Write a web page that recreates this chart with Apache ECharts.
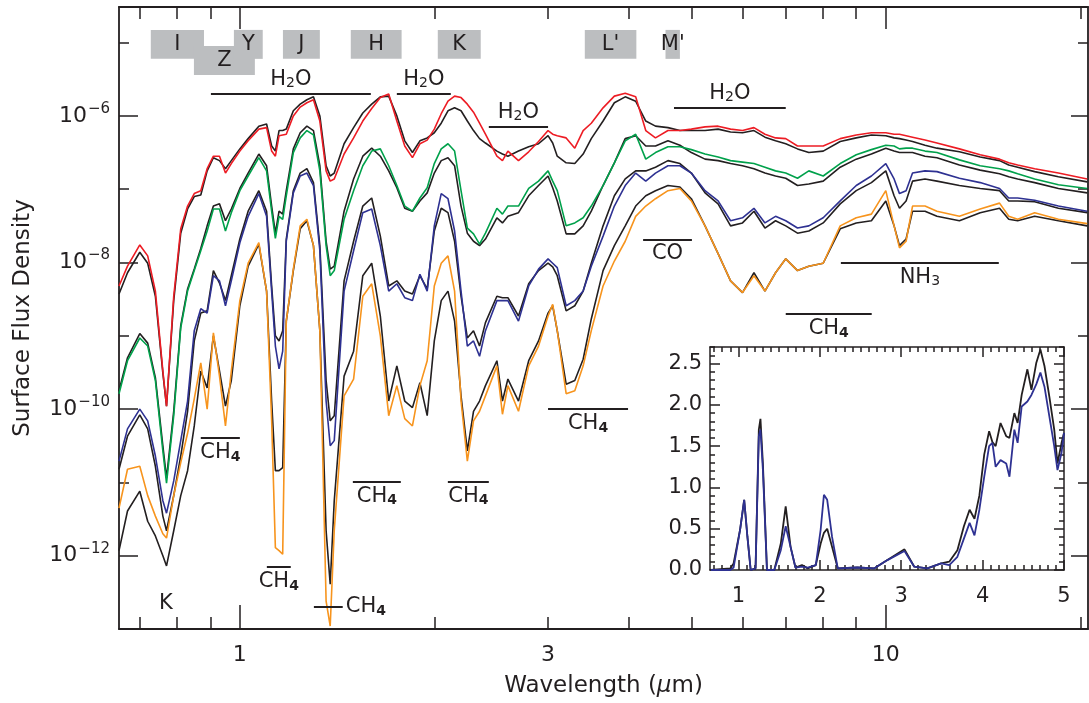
<!DOCTYPE html>
<html><head><meta charset="utf-8">
<script src="https://cdn.jsdelivr.net/npm/echarts@6/dist/echarts.min.js"></script>
<style>html,body{margin:0;padding:0;background:#fff}#c{width:1089px;height:703px}</style>
</head><body><div id="c"></div>
<script>
// ---------------- DATA ----------------
// wavelength grid (micron) shared by the eight model spectra
const wavelength = [0.65,0.67,0.70,0.72,0.74,0.76,0.77,0.79,0.81,0.83,
0.85,0.87,0.89,0.91,0.93,0.95,0.97,1.00,1.03,1.07,
1.10,1.12,1.135,1.15,1.165,1.18,1.21,1.24,1.27,1.30,
1.33,1.36,1.38,1.40,1.45,1.50,1.55,1.60,1.65,1.70,
1.75,1.80,1.85,1.90,1.95,2.00,2.05,2.10,2.15,2.20,
2.25,2.30,2.35,2.40,2.50,2.55,2.60,2.70,2.80,2.90,
3.00,3.05,3.10,3.20,3.30,3.40,3.50,3.65,3.80,3.95,
4.10,4.25,4.40,4.60,4.80,5.00,5.25,5.50,5.75,6.00,
6.25,6.50,6.75,7.00,7.30,7.60,8.00,8.50,9.00,9.50,
10.0,10.3,10.5,10.75,11.0,11.5,12.0,13.0,14.0,15.0,
15.5,16.0,17.0,18.5,20.5];

// log10 of surface flux density
const logFluxRed = [-8.32,-8.05,-7.76,-7.91,-8.39,-9.48,-9.96,-8.46,-7.54,-7.23,
-7.06,-7.02,-6.72,-6.55,-6.55,-6.78,-6.65,-6.48,-6.34,-6.18,
-6.16,-6.48,-6.55,-6.27,-6.26,-6.25,-6.00,-5.88,-5.82,-5.78,
-6.07,-6.75,-6.89,-6.86,-6.52,-6.30,-6.07,-5.90,-5.75,-5.70,
-6.07,-6.41,-6.57,-6.38,-6.33,-6.18,-5.97,-5.80,-5.73,-5.75,
-5.84,-5.95,-6.10,-6.25,-6.55,-6.61,-6.48,-6.61,-6.49,-6.35,
-6.20,-6.25,-6.27,-6.30,-6.44,-6.20,-6.10,-5.89,-5.73,-5.69,
-5.74,-6.20,-6.30,-6.20,-6.20,-6.18,-6.15,-6.14,-6.18,-6.20,
-6.16,-6.25,-6.30,-6.31,-6.41,-6.41,-6.41,-6.31,-6.26,-6.23,
-6.23,-6.25,-6.25,-6.27,-6.29,-6.33,-6.37,-6.45,-6.53,-6.59,
-6.64,-6.67,-6.72,-6.78,-6.86];
const logFluxRedBlack = [-8.43,-8.14,-7.86,-8.01,-8.46,-9.51,-9.96,-8.52,-7.60,-7.27,
-7.10,-7.08,-6.75,-6.57,-6.61,-6.72,-6.61,-6.45,-6.31,-6.14,
-6.11,-6.41,-6.48,-6.20,-6.20,-6.18,-5.93,-5.84,-5.78,-5.74,
-6.00,-6.68,-6.82,-6.78,-6.38,-6.16,-5.96,-5.84,-5.74,-5.73,
-6.00,-6.34,-6.50,-6.34,-6.30,-6.23,-6.10,-5.93,-5.89,-5.93,
-6.07,-6.20,-6.31,-6.37,-6.48,-6.52,-6.55,-6.48,-6.42,-6.38,
-6.27,-6.37,-6.55,-6.64,-6.65,-6.52,-6.31,-6.07,-5.82,-5.74,
-5.80,-6.07,-6.14,-6.16,-6.20,-6.20,-6.20,-6.18,-6.22,-6.23,
-6.20,-6.29,-6.34,-6.38,-6.45,-6.50,-6.48,-6.35,-6.30,-6.26,
-6.27,-6.30,-6.31,-6.33,-6.35,-6.40,-6.44,-6.49,-6.56,-6.61,
-6.67,-6.70,-6.76,-6.83,-6.90];
const logFluxGreen = [-9.79,-9.34,-9.03,-9.14,-9.61,-10.57,-11.01,-10.09,-8.89,-8.39,
-8.11,-7.84,-7.57,-7.27,-7.27,-7.57,-7.32,-7.02,-6.82,-6.57,
-6.75,-7.30,-7.67,-7.37,-7.41,-7.09,-6.50,-6.30,-6.20,-6.26,
-6.75,-7.77,-8.18,-8.11,-7.41,-7.02,-6.68,-6.48,-6.45,-6.68,
-6.95,-7.23,-7.30,-7.12,-6.98,-6.65,-6.45,-6.38,-6.48,-7.02,
-7.53,-7.61,-7.75,-7.60,-7.26,-7.34,-7.23,-7.23,-6.99,-6.89,
-6.75,-6.89,-7.02,-7.50,-7.46,-7.39,-7.23,-6.95,-6.64,-6.34,
-6.25,-6.59,-6.50,-6.42,-6.42,-6.46,-6.52,-6.56,-6.61,-6.63,
-6.65,-6.70,-6.75,-6.78,-6.85,-6.75,-6.82,-6.65,-6.53,-6.46,
-6.40,-6.41,-6.45,-6.44,-6.44,-6.48,-6.50,-6.60,-6.68,-6.72,
-6.75,-6.79,-6.86,-6.94,-6.99];
const logFluxGreenBlack = [-9.75,-9.30,-8.97,-9.10,-9.57,-10.50,-10.94,-10.03,-8.86,-8.36,
-8.09,-7.81,-7.50,-7.23,-7.20,-7.43,-7.27,-6.99,-6.78,-6.52,
-6.68,-7.23,-7.60,-7.30,-7.34,-7.02,-6.45,-6.23,-6.14,-6.20,
-6.68,-7.71,-8.09,-8.05,-7.30,-6.86,-6.55,-6.44,-6.55,-6.75,
-6.98,-7.26,-7.30,-7.16,-7.05,-6.78,-6.61,-6.57,-6.68,-7.23,
-7.60,-7.71,-7.77,-7.68,-7.39,-7.46,-7.37,-7.32,-7.09,-6.95,
-6.82,-6.98,-7.16,-7.61,-7.61,-7.50,-7.30,-6.95,-6.64,-6.31,
-6.27,-6.41,-6.41,-6.34,-6.40,-6.50,-6.59,-6.61,-6.65,-6.68,
-6.72,-6.78,-6.82,-6.85,-6.95,-6.93,-6.89,-6.70,-6.59,-6.52,
-6.44,-6.48,-6.50,-6.50,-6.50,-6.55,-6.57,-6.67,-6.74,-6.79,
-6.83,-6.86,-6.91,-6.99,-7.05];
const logFluxBlue = [-10.71,-10.27,-10.00,-10.16,-10.64,-11.25,-11.42,-10.98,-10.43,-9.89,
-8.93,-8.63,-8.69,-8.18,-8.25,-8.59,-8.25,-7.73,-7.37,-7.06,
-7.37,-8.39,-9.14,-9.45,-9.21,-7.71,-7.05,-6.82,-6.78,-6.95,
-7.84,-9.89,-10.50,-10.43,-8.39,-7.84,-7.32,-7.27,-7.77,-8.39,
-8.29,-8.48,-8.52,-8.16,-8.39,-7.50,-7.06,-7.13,-7.57,-8.39,
-9.14,-9.07,-9.28,-8.93,-8.52,-8.52,-8.52,-8.80,-8.32,-8.09,
-7.95,-8.01,-8.07,-8.59,-8.52,-8.39,-8.05,-7.64,-7.23,-6.95,
-6.78,-6.89,-6.78,-6.68,-6.68,-6.78,-7.02,-7.16,-7.43,-7.39,
-7.26,-7.46,-7.37,-7.43,-7.53,-7.50,-7.39,-7.16,-6.95,-6.82,
-6.65,-6.86,-7.06,-7.02,-6.78,-6.75,-6.76,-6.85,-6.91,-6.99,
-7.12,-7.12,-7.15,-7.23,-7.30];
const logFluxBlueBlack = [-10.82,-10.37,-10.08,-10.27,-10.78,-11.46,-11.66,-11.18,-10.64,-10.03,
-9.07,-8.69,-8.66,-8.11,-8.28,-8.52,-8.18,-7.68,-7.30,-7.02,
-7.30,-8.32,-9.00,-9.07,-8.93,-7.68,-7.02,-6.78,-6.72,-6.91,
-7.77,-9.61,-10.16,-10.09,-8.25,-7.71,-7.23,-7.12,-7.64,-8.32,
-8.25,-8.39,-8.43,-8.18,-8.36,-7.57,-7.26,-7.32,-7.71,-8.46,
-9.03,-8.93,-9.14,-8.82,-8.46,-8.48,-8.48,-8.73,-8.29,-8.11,
-8.01,-8.06,-8.18,-8.66,-8.59,-8.39,-8.01,-7.50,-7.09,-6.86,
-6.75,-6.75,-6.70,-6.61,-6.65,-6.78,-7.05,-7.20,-7.50,-7.46,
-7.30,-7.53,-7.43,-7.50,-7.60,-7.57,-7.46,-7.20,-7.02,-6.91,
-6.75,-7.09,-7.26,-7.16,-6.89,-6.86,-6.89,-6.95,-6.99,-7.02,
-7.16,-7.16,-7.17,-7.26,-7.32];
const logFluxOrange = [-11.35,-10.82,-10.78,-11.18,-11.46,-11.70,-11.76,-11.18,-10.73,-10.33,
-9.86,-9.37,-10.00,-8.96,-9.55,-10.23,-9.48,-8.52,-8.01,-7.73,
-8.39,-10.16,-11.89,-11.93,-11.98,-8.80,-8.09,-7.50,-7.41,-7.77,
-8.93,-12.62,-12.96,-11.66,-9.82,-9.59,-8.46,-8.29,-9.00,-10.09,
-9.68,-10.13,-10.23,-9.68,-9.34,-8.32,-8.01,-7.91,-8.39,-9.89,
-10.71,-10.16,-10.03,-9.82,-9.41,-10.07,-9.68,-10.03,-9.41,-9.14,
-8.73,-8.57,-8.93,-9.79,-9.75,-9.41,-8.93,-8.32,-7.98,-7.71,
-7.37,-7.23,-7.13,-7.02,-6.99,-7.16,-7.50,-7.88,-8.25,-8.41,
-8.18,-8.39,-8.14,-7.95,-8.11,-8.05,-8.01,-7.50,-7.39,-7.34,
-7.02,-7.50,-7.80,-7.71,-7.23,-7.23,-7.30,-7.37,-7.27,-7.19,
-7.37,-7.41,-7.32,-7.41,-7.47];
const logFluxOrangeBlack = [-11.93,-11.39,-11.12,-11.53,-11.73,-12.00,-12.14,-11.66,-11.18,-10.84,
-10.23,-9.48,-9.71,-9.00,-9.48,-9.96,-9.61,-8.59,-8.05,-7.75,
-8.39,-9.89,-10.84,-10.84,-10.80,-8.80,-8.11,-7.54,-7.43,-7.77,
-8.93,-11.66,-12.39,-11.25,-9.55,-9.21,-8.18,-8.01,-8.73,-9.89,
-9.41,-9.89,-9.98,-9.64,-10.09,-9.07,-8.52,-8.39,-8.80,-9.82,
-10.57,-10.03,-9.89,-9.68,-9.34,-9.89,-9.59,-9.89,-9.34,-9.07,
-8.69,-8.59,-8.93,-9.66,-9.61,-9.32,-8.77,-8.11,-7.77,-7.50,
-7.23,-7.09,-7.02,-6.95,-6.97,-7.13,-7.50,-7.88,-8.25,-8.41,
-8.14,-8.39,-8.14,-7.95,-8.11,-8.05,-8.01,-7.54,-7.46,-7.43,
-7.16,-7.50,-7.77,-7.68,-7.30,-7.30,-7.37,-7.43,-7.32,-7.26,
-7.41,-7.43,-7.37,-7.43,-7.50];

// inset (linear flux ratio vs wavelength)
const insetWavelength = [0.66,0.90,0.94,1.02,1.07,1.11,1.15,1.21,1.25,1.27,
1.30,1.35,1.44,1.52,1.58,1.64,1.70,1.78,1.85,1.95,
2.01,2.05,2.09,2.15,2.22,2.46,2.67,2.83,3.04,3.16,
3.32,3.49,3.59,3.69,3.77,3.84,3.90,3.96,4.02,4.08,
4.12,4.16,4.22,4.29,4.33,4.39,4.43,4.48,4.55,4.60,
4.66,4.71,4.76,4.82,4.88,4.92,4.97,5.00];
const insetBlack = [0,0.02,0.08,0.49,0.85,0.40,0.00,0.02,1.70,1.83,
1.29,0.00,0.00,0.32,0.77,0.28,0.03,0.06,0.02,0.06,
0.32,0.45,0.50,0.28,0.02,0.03,0.02,0.12,0.25,0.04,
0.02,0.08,0.10,0.24,0.53,0.73,0.62,0.90,1.40,1.68,
1.55,1.50,1.78,1.62,1.60,1.90,1.78,2.12,2.43,2.18,
2.51,2.67,2.47,2.10,1.70,1.29,1.54,1.66];
const insetBlue = [0,0.00,0.03,0.49,0.85,0.40,0.00,0.02,1.62,1.70,
1.21,0.00,0.00,0.24,0.53,0.28,0.03,0.04,0.03,0.06,
0.49,0.91,0.85,0.40,0.02,0.03,0.02,0.12,0.23,0.04,
0.02,0.08,0.06,0.16,0.38,0.57,0.42,0.73,1.13,1.50,
1.54,1.25,1.33,1.29,1.13,1.70,1.54,1.98,2.04,2.12,
2.25,2.39,2.22,1.86,1.50,1.21,1.42,1.66];

// photometric bands (micron range, flux range of the grey box)
const bandNames = ['I','Z','Y','J','H','K',"L'","M'"];
const bandStart = [0.728,0.849,0.979,1.166,1.485,2.025,3.42,4.56];
const bandEnd = [0.880,1.055,1.085,1.330,1.780,2.36,4.11,4.80];
const bandTop = [1.49e-5,9.0e-6,1.49e-5,1.49e-5,1.49e-5,1.49e-5,1.49e-5,1.49e-5];
const bandBottom = [6.0e-6,3.62e-6,6.0e-6,6.0e-6,6.0e-6,6.0e-6,6.0e-6,6.0e-6];

// molecular features
const featureText = ['H{s|2}O','H{s|2}O','H{s|2}O','H{s|2}O','CO','NH{s|3}','CH{b|4}','CH{b|4}','CH{b|4}','CH{b|4}','CH{b|4}','CH{b|4}','CH{b|4}'];
const featureStart = [0.902,1.750,2.429,4.70,4.21,8.52,7.0,3.0,2.099,1.496,0.870,1.101,1.302];
const featureEnd = [1.595,2.121,3.0,7.0,5.01,14.96,9.51,3.99,2.429,1.775,1.0,1.199,1.443];
const featureLevel = [2.0e-6,2.0e-6,7.1e-7,1.29e-6,2.03e-8,9.9e-9,1.99e-9,1.0e-10,1.02e-11,1.02e-11,4.05e-11,7.0e-13,2.0e-13];
const featureSide = ['top','top','top','top','bottom','bottom','bottom','bottom','bottom','bottom','bottom','bottom','end'];
const pointText = ['K'];
const pointX = [0.768];
const pointY = [2.2e-13];

// axis ticks
const xMin = 0.65, xMax = 20.56, yMin = 1e-13, yMax = 3.06e-5;
const xMajorTicks = [1, 10];
const xMinorTicks = [0.7,0.8,0.9,2,3,4,5,6,7,8,9,20];
const xLabels = [1, 3, 10];
const yMajorExp = [-12,-10,-8,-6];
const yMinorExp = [-13,-11,-9,-7,-5];
const insetXMajor = [1,2,3,4,5];
const insetYMajor = [0,0.5,1.0,1.5,2.0,2.5];

// ---------------- CHART ----------------
const INK = '#231f20';
const FONT = 'DejaVu Sans';
const insetXMinor = []; for (let i = 7; i <= 50; i++) insetXMinor.push(i / 10);
const insetYMinor = []; for (let i = 1; i <= 27; i++) insetYMinor.push(i / 10);

const toPts = arr => wavelength.map((w, i) => [w, Math.pow(10, arr[i])]);
const L = Math.log10;
const lx0 = L(xMin), lx1 = L(xMax), ly0 = L(yMin), ly1 = L(yMax);

const mainRect = {left:119, top:7, width:969, height:622};
const insetRect = {left:710, top:347, width:354, height:223};

function spec(name, arr, color) {
  return {name, type:'line', xAxisIndex:0, yAxisIndex:0, data: toPts(arr), showSymbol:false, symbol:'none',
    lineStyle:{color, width:1.6}, itemStyle:{color}, silent:true, animation:false, z:2};
}
function tickAx(grid, pos, mn, mx, vals, len, label, lineW, showLine) {
  return {type:'value', gridIndex:grid, position:pos, min:mn, max:mx, splitLine:{show:false},
    axisLine:{show: showLine !== false, onZero:false, lineStyle:{color:INK, width:lineW || 1.8}},
    axisTick:{show:true, inside:true, length:len, customValues:vals, lineStyle:{color:INK, width:1.5}},
    axisLabel: label || {show:false}};
}

const featureLines = featureText.map((t, i) => [
  {coord:[featureStart[i], featureLevel[i]], label:{formatter:t,
    position: featureSide[i] === 'top' ? 'insideMiddleTop' : (featureSide[i] === 'end' ? 'end' : 'insideMiddleBottom')}},
  {coord:[featureEnd[i], featureLevel[i]]}
]);
const bandAreas = bandNames.map((n, i) => [
  {name:n, xAxis:bandStart[i], yAxis:bandTop[i]},
  {xAxis:bandEnd[i], yAxis:bandBottom[i]}
]);

const series = [
  spec('red model (black)', logFluxRedBlack, INK),
  spec('green model (black)', logFluxGreenBlack, INK),
  spec('blue model (black)', logFluxBlueBlack, INK),
  spec('orange model (black)', logFluxOrangeBlack, INK),
  spec('orange', logFluxOrange, '#f7941d'),
  spec('blue', logFluxBlue, '#2e3192'),
  spec('green', logFluxGreen, '#00a14b'),
  spec('red', logFluxRed, '#ed1c24')
];
series[7].markArea = {silent:true, animation:false, itemStyle:{color:'#bcbec0', opacity:1},
  label:{show:true, position:'inside', color:INK, fontSize:21, fontFamily:FONT}, data: bandAreas};
series[7].markLine = {silent:true, animation:false, symbol:['none','none'],
  lineStyle:{color:INK, width:2, type:'solid'},
  label:{show:true, color:INK, fontSize:21, fontFamily:FONT, distance:3,
    rich:{s:{fontSize:14, fontFamily:FONT, color:INK, padding:[9,0,0,0]}, b:{fontSize:14, fontWeight:'bold', fontFamily:FONT, color:INK, padding:[9,0,0,0]}}},
  data: featureLines};
series[7].markPoint = {silent:true, animation:false, symbol:'circle', symbolSize:1, itemStyle:{color:'rgba(0,0,0,0)'},
  label:{show:true, position:'inside', color:INK, fontSize:21, fontFamily:FONT},
  data: pointText.map((t, i) => ({coord:[pointX[i], pointY[i]], label:{formatter:t}}))};

series.push({name:'inset black', type:'line', xAxisIndex:5, yAxisIndex:5, showSymbol:false, symbol:'none',
  data: insetWavelength.map((w, i) => [w, insetBlack[i]]), lineStyle:{color:INK, width:1.8}, silent:true, animation:false, z:3});
series.push({name:'inset blue', type:'line', xAxisIndex:5, yAxisIndex:5, showSymbol:false, symbol:'none',
  data: insetWavelength.map((w, i) => [w, insetBlue[i]]), lineStyle:{color:'#2e3192', width:1.8}, silent:true, animation:false, z:4});

const xNameAx = tickAx(1,'bottom',lx0,lx1,xMajorTicks.map(L),24,
  {show:true, customValues:xLabels.map(L), margin:15, fontSize:22, color:INK, fontFamily:FONT,
   formatter:v => String(Math.round(Math.pow(10, v)))});
Object.assign(xNameAx, {name:'Wavelength ({i|μ}m)', nameLocation:'middle', nameGap:46,
  nameTextStyle:{fontSize:23, color:INK, fontFamily:FONT, rich:{i:{fontSize:23, fontStyle:'italic', fontFamily:FONT, color:INK}}}});
const yNameAx = tickAx(1,'left',ly0,ly1,yMajorExp,19,
  {show:true, customValues:yMajorExp, margin:9, fontSize:22, color:INK, fontFamily:FONT,
   formatter:v => '10{s|−' + Math.round(-v) + '}',
   rich:{s:{fontSize:15, fontFamily:FONT, color:INK, padding:[0,0,14,1]}}});
Object.assign(yNameAx, {name:'Surface Flux Density', nameLocation:'middle', nameGap:84, nameRotate:90,
  nameTextStyle:{fontSize:23, color:INK, fontFamily:FONT}});

const option = {
  animation:false,
  backgroundColor:'#fff',
  textStyle:{fontFamily:FONT, color:INK},
  grid:[
    Object.assign({}, mainRect),
    Object.assign({}, mainRect),
    Object.assign({}, mainRect),
    Object.assign({show:true, backgroundColor:'#fff', borderWidth:0}, insetRect),
    Object.assign({}, insetRect)
  ],
  xAxis:[
    {type:'log', gridIndex:0, min:xMin, max:xMax, show:false},
    xNameAx,
    tickAx(1,'top',lx0,lx1,xMajorTicks.map(L),22),
    tickAx(2,'bottom',lx0,lx1,xMinorTicks.map(L),12, null, 1.8, false),
    tickAx(2,'top',lx0,lx1,xMinorTicks.map(L),12, null, 1.8, false),
    tickAx(3,'bottom',0.65,5.0,insetXMajor,10,
      {show:true, customValues:insetXMajor, margin:16, fontSize:21, color:INK, fontFamily:FONT, formatter:v => String(v)}, 1.5),
    tickAx(3,'top',0.65,5.0,insetXMajor,10, null, 1.5),
    tickAx(4,'bottom',0.65,5.0,insetXMinor,5, null, 1.5, false),
    tickAx(4,'top',0.65,5.0,insetXMinor,5, null, 1.5, false)
  ],
  yAxis:[
    {type:'log', gridIndex:0, min:yMin, max:yMax, show:false},
    yNameAx,
    tickAx(1,'right',ly0,ly1,yMajorExp,17),
    tickAx(2,'left',ly0,ly1,yMinorExp,10, null, 1.8, false),
    tickAx(2,'right',ly0,ly1,yMinorExp,10, null, 1.8, false),
    tickAx(3,'left',0,2.7,insetYMajor,10,
      {show:true, customValues:insetYMajor, margin:8, fontSize:21, color:INK, fontFamily:FONT, formatter:v => v.toFixed(1)}, 1.5),
    tickAx(3,'right',0,2.7,insetYMajor,10, null, 1.5),
    tickAx(4,'left',0,2.7,insetYMinor,5, null, 1.5, false),
    tickAx(4,'right',0,2.7,insetYMinor,5, null, 1.5, false)
  ],
  series
};
const chart = echarts.init(document.getElementById('c'));
chart.setOption(option);
</script></body></html>
